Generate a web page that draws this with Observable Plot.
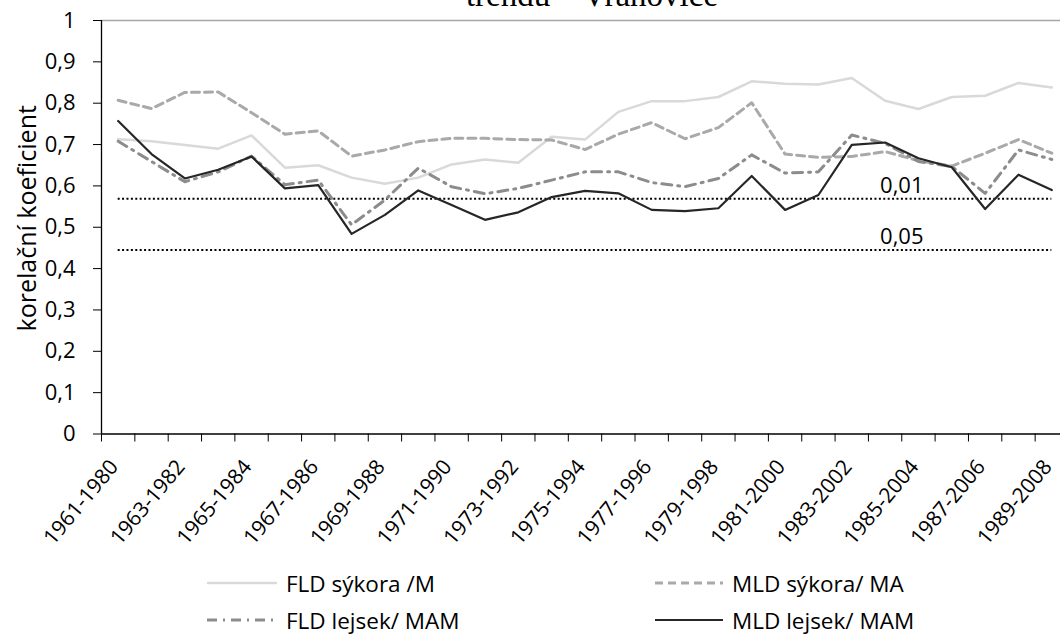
<!DOCTYPE html>
<html>
<head>
<meta charset="utf-8">
<script src="https://cdn.jsdelivr.net/npm/d3@7"></script>
<script src="https://cdn.jsdelivr.net/npm/@observablehq/plot@0.6"></script>
<style>
  html, body { margin: 0; padding: 0; background: #fff; overflow: hidden; }
  #wrap { position: relative; width: 1060px; height: 637px; overflow: hidden; font-family: "Open Sans", sans-serif; }
  #title { position: absolute; left: 592px; top: -21px; transform: translateX(-50%); white-space: nowrap;
           font-family: "Liberation Serif", "Times New Roman", serif; font-size: 33px; line-height: 33px; color: #000; }
  #chart { position: absolute; left: 0; top: 0; }
  .leg { position: absolute; display: flex; align-items: center; font-size: 22.5px; color: #000; white-space: nowrap; }
  .leg svg { margin-right: 9px; }
</style>
</head>
<body>
<div id="wrap">
  <div id="chart"></div>
  <div id="title">trendu – Vranovice</div>
  <div id="legend"></div>
</div>
<script>
const periods = ["1961-1980","1962-1981","1963-1982","1964-1983","1965-1984","1966-1985","1967-1986","1968-1987","1969-1988","1970-1989",
  "1971-1990","1972-1991","1973-1992","1974-1993","1975-1994","1976-1995","1977-1996","1978-1997","1979-1998","1980-1999",
  "1981-2000","1982-2001","1983-2002","1984-2003","1985-2004","1986-2005","1987-2006","1988-2007","1989-2008"];

const fldSykora = [0.713,0.708,0.699,0.690,0.722,0.644,0.650,0.620,0.605,0.620,0.652,0.664,0.656,0.719,0.712,0.779,0.805,0.805,0.815,0.853,0.847,0.845,0.861,0.806,0.786,0.815,0.818,0.849,0.838];
const mldSykora = [0.807,0.787,0.826,0.827,0.777,0.725,0.733,0.672,0.687,0.707,0.715,0.715,0.712,0.711,0.688,0.725,0.753,0.714,0.741,0.801,0.677,0.669,0.671,0.683,0.661,0.648,0.679,0.712,0.679];
const fldLejsek = [0.708,0.659,0.610,0.634,0.672,0.603,0.614,0.506,0.566,0.643,0.598,0.581,0.594,0.614,0.634,0.634,0.608,0.598,0.618,0.675,0.631,0.634,0.723,0.703,0.659,0.647,0.582,0.687,0.664];
const mldLejsek = [0.757,0.677,0.618,0.639,0.671,0.594,0.602,0.484,0.530,0.589,0.554,0.518,0.536,0.573,0.588,0.582,0.542,0.539,0.546,0.624,0.542,0.578,0.699,0.705,0.667,0.645,0.544,0.627,0.590];

const seriesNames = ["FLD sýkora /M", "MLD sýkora/ MA", "FLD lejsek/ MAM", "MLD lejsek/ MAM"];
const thresholdLabels = ["0,01", "0,05"];
const thresholdValues = [0.569, 0.445];
const yTicks = [0, 0.1, 0.2, 0.3, 0.4, 0.5, 0.6, 0.7, 0.8, 0.9, 1];
const yTitle = "korelační koeficient";

const styles = [
  {stroke: "#d9d9d9", strokeWidth: 2.5, dash: null},
  {stroke: "#a9a9a9", strokeWidth: 3, dash: "8,5"},
  {stroke: "#8c8c8c", strokeWidth: 3, dash: "10,6,2,6"},
  {stroke: "#262626", strokeWidth: 2.2, dash: null}
];
const seriesData = [fldSykora, mldSykora, fldLejsek, mldLejsek];

const n = periods.length;
const boundaries = periods.map((_, i) => i - 0.5);
const labelIdx = periods.map((_, i) => i).filter(i => i % 2 === 0);
const thresholds = thresholdLabels.map((label, k) => ({label, value: thresholdValues[k]}));
const fmt = d => String(d).replace(".", ",");

const lineMarks = seriesData.map((arr, k) => Plot.line(arr, {
  x: (d, i) => i, y: d => d,
  stroke: styles[k].stroke, strokeWidth: styles[k].strokeWidth,
  strokeDasharray: styles[k].dash || undefined,
  strokeLinejoin: "round"
}));

const chart = Plot.plot({
  width: 1060,
  height: 560,
  marginTop: 20,
  marginBottom: 126.5,
  marginLeft: 101,
  marginRight: 0,
  style: {fontFamily: "Open Sans, sans-serif", fontSize: "22px", color: "#000", background: "transparent", overflow: "visible"},
  x: {domain: [-0.5, n - 0.5], range: [101, 1068]},
  y: {domain: [0, 1]},
  marks: [
    Plot.ruleY([1], {stroke: "#a6a6a6", strokeWidth: 1.5}),
    Plot.ruleY(thresholds, {y: "value", x1: () => 0, x2: () => n - 1, stroke: "#000", strokeWidth: 2, strokeDasharray: "2,2.4"}),
    Plot.text(thresholds, {y: "value", x: () => 23.5, text: "label", dy: -13, fontSize: 22, fill: "#000"}),
    ...lineMarks,
    Plot.ruleY([0], {stroke: "#000", strokeWidth: 1.3}),
    Plot.ruleX([-0.5], {y1: 0, y2: 1, stroke: "#000", strokeWidth: 1.3}),
    Plot.axisY({ticks: yTicks, tickSize: 8, tickPadding: 18, tickFormat: fmt, label: null, fontSize: 22, stroke: "#000"}),
    Plot.axisX({ticks: boundaries, tickSize: 8, tickFormat: () => "", label: null, stroke: "#000"}),
    Plot.axisX({ticks: labelIdx, tickSize: 0, tickPadding: 29, dx: -4, tickRotate: -50, tickFormat: i => periods[i], label: null, fontSize: 21}),
    Plot.text([yTitle], {frameAnchor: "left", textAnchor: "middle", dx: -74, dy: -9, rotate: -90, fontSize: 25, fill: "#000"})
  ]
});
document.getElementById("chart").appendChild(chart);

// legend
const legendPos = [
  {x: 207, y: 583, w: 70},
  {x: 655, y: 583, w: 68},
  {x: 207, y: 620, w: 70},
  {x: 655, y: 620, w: 68}
];
const legend = document.getElementById("legend");
seriesNames.forEach((name, k) => {
  const p = legendPos[k], s = styles[k];
  const div = document.createElement("div");
  div.className = "leg";
  div.style.left = p.x + "px";
  div.style.top = (p.y - 16) + "px";
  div.style.height = "32px";
  div.innerHTML = `<svg width="${p.w}" height="10"><line x1="0" x2="${p.w}" y1="5" y2="5" stroke="${s.stroke}" stroke-width="${s.strokeWidth}" ${s.dash ? `stroke-dasharray="${s.dash}"` : ""}/></svg><span>${name}</span>`;
  legend.appendChild(div);
});
</script>
</body>
</html>
